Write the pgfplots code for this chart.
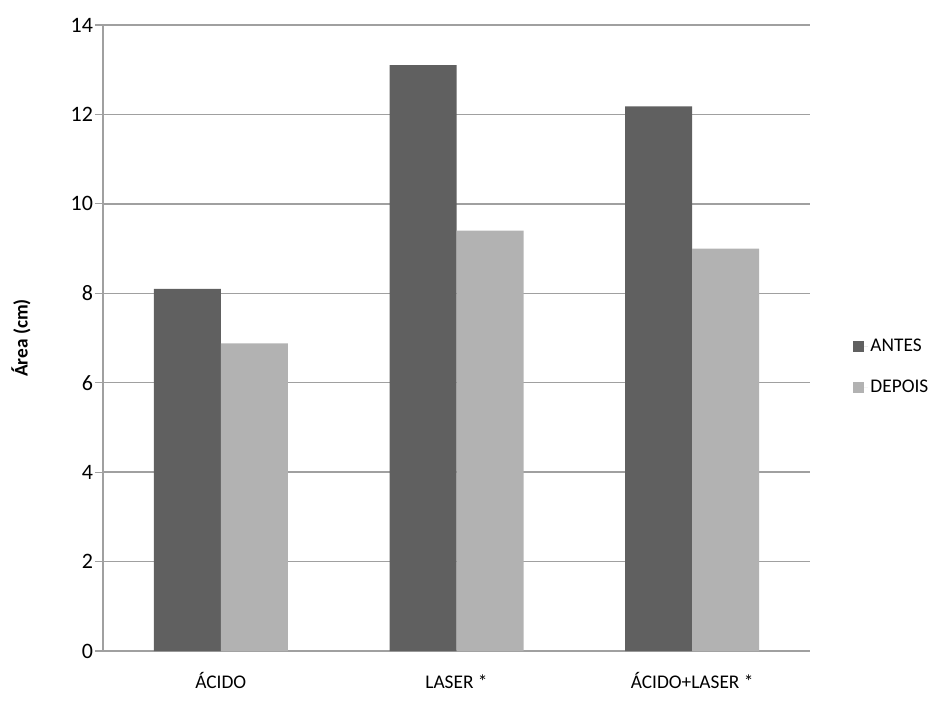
\documentclass[border=0pt]{standalone}
\usepackage{pgfplots}
\pgfplotsset{compat=1.18}
\usepackage{fontspec}
\setmainfont{Carlito}
\definecolor{antes}{HTML}{606060}
\definecolor{depois}{HTML}{B2B2B2}
\definecolor{gridc}{HTML}{A0A0A0}
\begin{document}
\begin{tikzpicture}
\begin{axis}[
  scale only axis,
  width=530.25pt, height=469.5pt,
  xmin=-0.5, xmax=2.5, ymin=0, ymax=14,
  ybar=0pt, bar width=50.25pt,
  xtick={0,1,2},
  xticklabels={ÁCIDO, LASER *, ÁCIDO+LASER *},
  xtick style={draw=none},
  xticklabel style={anchor=base, yshift=-22pt, font=\fontsize{14.5pt}{16pt}\selectfont},
  ytick={0,2,...,14},
  yticklabel style={font=\fontsize{16.5pt}{18pt}\selectfont, xshift=2pt},
  /pgf/number format/assume math mode=true,
  tick align=outside, major tick length=6pt,
  ytick style={gridc, line width=0.9pt},
  ymajorgrids, grid style={gridc, line width=1.1pt},
  axis x line*=bottom, axis y line*=left,
  axis line style={gridc, line width=1.1pt, -},
  ylabel={\textbf{Área (cm)}},
  ylabel style={at={(rel axis cs:0,0.5)}, anchor=center, yshift=61.5pt, font=\fontsize{14.5pt}{16pt}\selectfont},
  legend style={at={(1.055,0.454)}, anchor=west, draw=none, fill=none,
    font=\fontsize{14.5pt}{16pt}\selectfont, row sep=16pt, legend cell align=left},
  legend image code/.code={\fill[#1] (0pt,-4.25pt) rectangle (8.5pt,4.25pt); \path (0pt,0pt) -- (11pt,0pt);},
]
\addplot[fill=antes, draw=none] coordinates {(0,8.1) (1,13.1) (2,12.18)};
\addplot[fill=depois, draw=none] coordinates {(0,6.88) (1,9.4) (2,9.0)};
\legend{ANTES, DEPOIS}
\end{axis}
\pgfresetboundingbox
\path (current axis.south west) ++(-77.25pt,-36.75pt) rectangle ++(709.5pt,525pt);
\end{tikzpicture}
\end{document}
